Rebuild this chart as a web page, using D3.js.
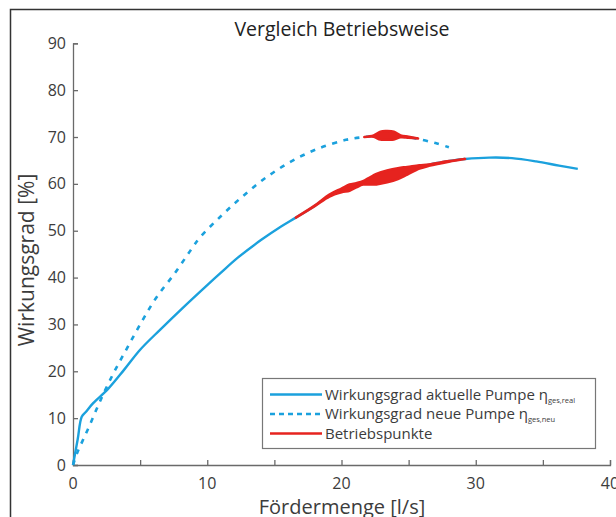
<!DOCTYPE html>
<html>
<head>
<meta charset="utf-8">
<script src="https://cdn.jsdelivr.net/npm/d3@7"></script>
<style>
  html, body { margin: 0; padding: 0; background: #fff; }
  svg { display: block; font-family: "Open Sans", sans-serif; }
</style>
</head>
<body>
<svg id="chart" width="616" height="517"></svg>
<script>
// Wirkungsgrad aktuelle Pumpe (x in l/s, y in %)
const realX = [0, 0.35, 0.65, 0.95, 1.5, 2.6, 3.8, 5.0, 6.5, 8.2, 10, 11, 12.3, 14, 15.5, 16.6, 18, 19.1, 20.6, 22.3, 24, 25.8, 27, 28.3, 29.2, 31, 32.7, 34.5, 36.2, 37.6];
const realY = [0, 5.5, 10.3, 11.3, 13.2, 16.2, 20.3, 24.6, 28.9, 33.6, 38.4, 41, 44.3, 48, 50.9, 52.8, 55.3, 57.5, 59.2, 60.9, 62.3, 63.6, 64.4, 65.0, 65.3, 65.6, 65.5, 64.8, 63.9, 63.2];

// Wirkungsgrad neue Pumpe
const neuX = [0, 0.3, 0.72, 1.2, 2.06, 3, 4, 5.1, 6.2, 7.6, 8.8, 9.44, 11.05, 12.66, 14.4, 16.26, 18.2, 20.35, 21.7, 23, 24.3, 25.5, 27, 28];
const neuY = [0, 2.5, 5.2, 8.2, 13.9, 19.5, 24.8, 30.5, 35.7, 41, 46, 48.5, 53.2, 57.4, 61.4, 64.8, 67.45, 69.4, 70.0, 70.3, 70.15, 69.7, 68.7, 67.8];

// Betriebspunkte on the current pump curve (centre and spread in %)
const opRealX = [16.6, 18.0, 19.1, 20.0, 20.6, 21.1, 21.6, 22.1, 22.6, 23.4, 24.2, 24.9, 25.8, 26.5, 28.0, 29.2];
const opRealY = [52.8, 55.3, 57.5, 58.6, 59.2, 59.7, 60.2, 60.6, 61.0, 61.6, 62.2, 62.8, 63.6, 64.0, 64.8, 65.3];
const opRealSpread = [0, 0.05, 0.2, 0.4, 0.65, 0.45, 0.35, 0.75, 1.1, 1.25, 1.15, 0.8, 0.35, 0.15, 0.05, 0];

// Betriebspunkte on the new pump curve
const opNeuX = [21.7, 22.4, 22.9, 23.4, 23.9, 24.4, 25.0, 25.7];
const opNeuY = [70.0, 70.2, 70.3, 70.35, 70.3, 70.15, 69.95, 69.7];
const opNeuSpread = [0, 0.15, 0.85, 0.9, 0.8, 0.2, 0.1, 0];

const xTicks = [0, 5, 10, 15, 20, 25, 30, 35, 40];
const xTickLabels = [0, 10, 20, 30, 40];
const yTicks = [0, 10, 20, 30, 40, 50, 60, 70, 80, 90];

const legendLabels = [
  { main: "Wirkungsgrad aktuelle Pumpe η", sub: "ges,real" },
  { main: "Wirkungsgrad neue Pumpe η", sub: "ges,neu" },
  { main: "Betriebspunkte", sub: "" },
];

const BLUE = "#1ba1dd";
const RED = "#e6231f";
const AXIS = "#6a6a6a";
const TEXT = "#3c3c3c";

const svg = d3.select("#chart");

// outer frame (only top and left edges are visible in the crop)
svg.append("path")
  .attr("d", "M10.5,517 V9.5 H616")
  .attr("fill", "none")
  .attr("stroke", "#333")
  .attr("stroke-width", 1.5);

const x = d3.scaleLinear().domain([0, 40]).range([73, 610]);
const y = d3.scaleLinear().domain([0, 90]).range([465, 43.3]);

// axes
const xAxis = svg.append("g")
  .attr("transform", `translate(0,${y(0)})`)
  .call(d3.axisBottom(x).tickValues(xTicks).tickSize(-5).tickFormat(""));
const yAxis = svg.append("g")
  .attr("transform", `translate(${x(0)},0)`)
  .call(d3.axisLeft(y).tickValues(yTicks).tickSize(-5).tickFormat(""));
[xAxis, yAxis].forEach((g) => {
  g.select(".domain").attr("stroke", AXIS).attr("stroke-width", 1.3);
  g.selectAll(".tick line").attr("stroke", AXIS).attr("stroke-width", 1.3);
});

svg.append("g").selectAll("text")
  .data(xTickLabels).enter().append("text")
  .attr("x", (d) => x(d))
  .attr("y", 489)
  .attr("text-anchor", "middle")
  .attr("font-size", 16)
  .attr("fill", TEXT)
  .text((d) => d);

svg.append("g").selectAll("text")
  .data(yTicks).enter().append("text")
  .attr("x", 66)
  .attr("y", (d) => y(d) + 5.5)
  .attr("text-anchor", "end")
  .attr("font-size", 16)
  .attr("fill", TEXT)
  .text((d) => d);

// titles
svg.append("text")
  .attr("x", 342).attr("y", 36)
  .attr("text-anchor", "middle")
  .attr("font-size", 19.5)
  .attr("fill", "#222")
  .text("Vergleich Betriebsweise");

svg.append("text")
  .attr("x", 342).attr("y", 514)
  .attr("text-anchor", "middle")
  .attr("font-size", 20)
  .attr("fill", TEXT)
  .text("Fördermenge [l/s]");

svg.append("text")
  .attr("transform", "translate(34,260) rotate(-90)")
  .attr("text-anchor", "middle")
  .attr("font-size", 21)
  .attr("fill", TEXT)
  .text("Wirkungsgrad [%]");

// curves
const line = d3.line()
  .x((d) => x(d[0]))
  .y((d) => y(d[1]))
  .curve(d3.curveCatmullRom.alpha(0.5));

svg.append("path")
  .attr("d", line(d3.zip(realX, realY)))
  .attr("fill", "none")
  .attr("stroke", BLUE)
  .attr("stroke-width", 2.4);

svg.append("path")
  .attr("d", line(d3.zip(neuX, neuY)))
  .attr("fill", "none")
  .attr("stroke", BLUE)
  .attr("stroke-width", 2.6)
  .attr("stroke-dasharray", "5,6.5");

// operating points drawn as a red band around the curve
const band = d3.area()
  .x((d) => x(d[0]))
  .y0((d) => y(d[1] - d[2]))
  .y1((d) => y(d[1] + d[2]))
  .curve(d3.curveCatmullRom.alpha(0.5));

[[opRealX, opRealY, opRealSpread], [opNeuX, opNeuY, opNeuSpread]].forEach(([xs, ys, ss]) => {
  svg.append("path")
    .attr("d", band(d3.zip(xs, ys, ss)))
    .attr("fill", RED)
    .attr("stroke", RED)
    .attr("stroke-width", 2.6)
    .attr("stroke-linejoin", "round");
});

// legend
const lg = svg.append("g");
lg.append("rect")
  .attr("x", 262.5).attr("y", 378.5)
  .attr("width", 333).attr("height", 70)
  .attr("fill", "#fff")
  .attr("stroke", "#777")
  .attr("stroke-width", 1.2);

const rowY = [394.5, 414, 433.5];
const rowStyle = [
  { color: BLUE, dash: null },
  { color: BLUE, dash: "5,4" },
  { color: RED, dash: null },
];
legendLabels.forEach((d, i) => {
  lg.append("line")
    .attr("x1", 270).attr("x2", 322)
    .attr("y1", rowY[i]).attr("y2", rowY[i])
    .attr("stroke", rowStyle[i].color)
    .attr("stroke-width", 2.4)
    .attr("stroke-dasharray", rowStyle[i].dash);
  const t = lg.append("text")
    .attr("x", 325).attr("y", rowY[i] + 5.2)
    .attr("font-size", 15)
    .attr("fill", TEXT);
  t.append("tspan").text(d.main);
  if (d.sub) {
    t.append("tspan")
      .attr("font-size", 7.5)
      .attr("dy", 3)
      .text(d.sub);
  }
});
</script>
</body>
</html>
